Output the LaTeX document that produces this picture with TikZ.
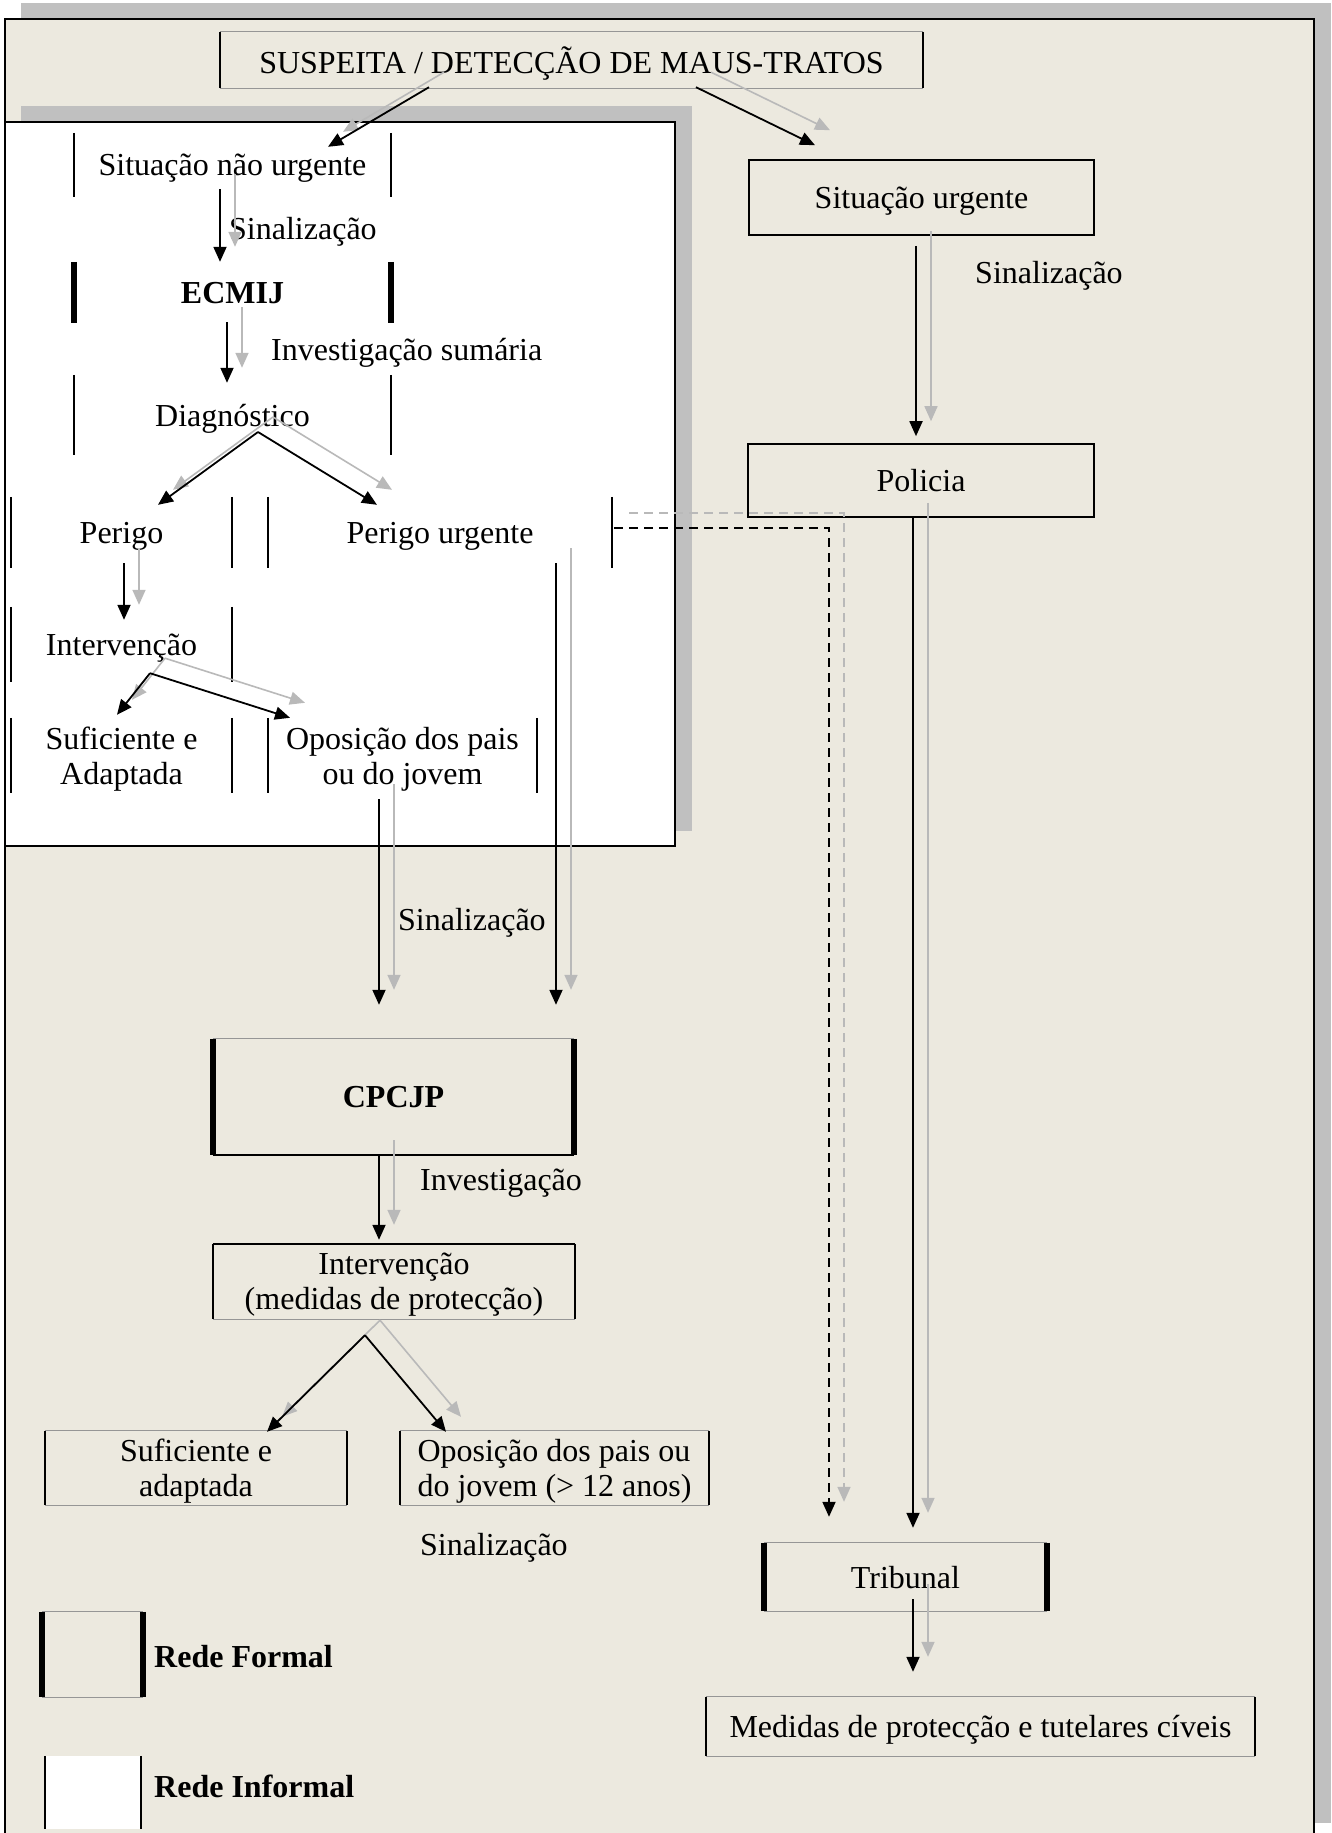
\documentclass[tikz,border=0pt]{standalone}
\usepackage{fontspec}
\setmainfont{Liberation Serif}
\usetikzlibrary{arrows.meta}
\definecolor{paper}{RGB}{236,233,223}
\definecolor{shadowgray}{RGB}{192,192,192}
\definecolor{ghost}{RGB}{185,185,185}
\definecolor{rim}{RGB}{150,150,150}
\newcommand{\flow}[2][]{%
  \draw[ghostarr,#1] #2;
  \draw[blackarr,#1] #2;}
\begin{document}
\begin{tikzpicture}[x=1pt,y=-1pt,>={Triangle[length=15pt,width=13pt]},font=\fontsize{32}{35}\selectfont,
    box/.style={inner sep=0pt,align=center,text depth=0pt},
    full/.style={box,draw=black,line width=1.6pt},
    lab/.style={inner sep=0pt,anchor=west},
    thinbar/.style={line width=1.8pt},
    thickbar/.style={line width=5.5pt},
    rimline/.style={draw=rim,line width=1.2pt},
    ghostarr/.style={->,draw=ghost,line width=1.6pt,transform canvas={shift={(15,-15)}}},
    blackarr/.style={->,draw=black,line width=1.8pt}]
\useasboundingbox (0,0) rectangle (1331,1833);
\fill[white] (0,0) rectangle (1331,1833);
\fill[shadowgray] (21,3) rectangle (1331,1823);
\fill[paper] (5,19) rectangle (1314,1850);
\draw[line width=2pt] (5,1850) -- (5,19) -- (1314,19) -- (1314,1850);
\fill[shadowgray] (21,106) rectangle (692,831);
\draw[line width=2pt,fill=white] (5,122) rectangle (675,846);

\node[box,minimum width=703,minimum height=56] (sus) at (571.5,60) {SUSPEITA / DETECÇÃO DE MAUS-TRATOS};
\node[box,minimum width=317,minimum height=64] (nurg) at (232.5,165) {Situação não urgente};
\node[box,minimum width=317,minimum height=61] (ecm) at (232.5,292.5) {\bfseries ECMIJ};
\node[box,minimum width=317,minimum height=80] (diag) at (232.5,415) {Diagnóstico};
\node[box,minimum width=221,minimum height=71] (per) at (121.5,532.5) {Perigo};
\node[box,minimum width=344,minimum height=71] (peru) at (440,532.5) {Perigo urgente};
\node[box,minimum width=221,minimum height=75] (intv) at (121.5,644.5) {Intervenção};
\node[box,minimum width=221,minimum height=75] (suf) at (121.5,755.5) {Suficiente e\\Adaptada};
\node[box,minimum width=269,minimum height=75] (opo) at (402.5,755.5) {Oposição dos pais\\ou do jovem};
\node[full,minimum width=345,minimum height=75] (urg) at (921.5,197.5) {Situação urgente};
\node[full,minimum width=346,minimum height=73] (pol) at (921,480.5) {Policia};
\node[box,minimum width=361,minimum height=116] (cpc) at (393.5,1097) {\bfseries CPCJP};
\node[box,minimum width=362,minimum height=75] (int2) at (394,1281.5) {Intervenção\\(medidas de protecção)};
\node[box,minimum width=302,minimum height=74] (suf2) at (196,1468) {Suficiente e\\adaptada};
\node[box,align=left,minimum width=309,minimum height=74] (opo2) at (554.5,1468) {Oposição dos pais ou\\do jovem (> 12 anos)};
\node[box,minimum width=283,minimum height=68] (trib) at (905.5,1577) {Tribunal};
\node[box,minimum width=549,minimum height=59] (med) at (980.5,1726.5) {Medidas de protecção e tutelares cíveis};
\node[box,minimum width=101,minimum height=85] (lf) at (92.5,1654.5) {};
\node[box,fill=white,minimum width=96,minimum height=73] (li) at (93,1792.5) {};

\node[lab] (s1) at (229,232) {Sinalização};
\node[lab] (is) at (271,353) {Investigação sumária};
\node[lab] (s2) at (975,276) {Sinalização};
\node[lab] (s3) at (398,923) {Sinalização};
\node[lab] (iv) at (420,1183) {Investigação};
\node[lab] (s4) at (420,1548) {Sinalização};
\node[lab] (rf) at (154,1657) {\bfseries Rede Formal};
\node[lab] (ri) at (154,1786) {\bfseries Rede Informal};

\foreach \n in {sus,suf2,opo2,med,trib,cpc,lf,int2}
  \draw[rimline] (\n.north west) -- (\n.north east) (\n.south west) -- (\n.south east);
\draw[thinbar] (int2.north west) -- (int2.north east);
\draw[line width=2.4pt] (cpc.south west) -- (cpc.south east);
\foreach \n in {nurg,diag,per,peru,intv,suf,opo,sus,suf2,opo2,med,int2,li}
  \draw[thinbar] (\n.north west) -- (\n.south west) (\n.north east) -- (\n.south east);
\foreach \n in {ecm,cpc,trib,lf}
  \draw[thickbar] (\n.north west) -- (\n.south west) (\n.north east) -- (\n.south east);

\flow{([shift={(-142.5,-1)}]sus.south) -- ([shift={(95.5,14)}]nurg.north)}
\flow{([shift={(124.5,-1)}]sus.south) -- ([shift={(-106.5,-14)}]urg.north)}
\flow{([shift={(-12.5,-8)}]nurg.south) -- ([shift={(-12.5,0)}]ecm.north)}
\flow{([shift={(-5.5,-1)}]ecm.south) -- ([shift={(-5.5,8)}]diag.north)}
\flow{([shift={(25.5,17)}]diag.center) -- ([shift={(36.5,8)}]per.north)}
\flow{([shift={(25.5,17)}]diag.center) -- ([shift={(-63,8)}]peru.north)}
\flow{([shift={(2.5,-5)}]per.south) -- ([shift={(2.5,13)}]intv.north)}
\flow{([shift={(28.5,-9)}]intv.south) -- ([shift={(-4.5,-3)}]suf.north)}
\flow{([shift={(28.5,-9)}]intv.south) -- ([shift={(-112.5,0)}]opo.north)}
\flow{([shift={(-23.5,6)}]opo.south) -- ([shift={(-14.5,-34)}]cpc.north)}
\flow{([shift={(116,-5)}]peru.south) -- ([shift={(162.5,-34)}]cpc.north)}
\flow{([shift={(-14.5,0)}]cpc.south) -- ([shift={(-15,-4)}]int2.north)}
\flow{([shift={(-29,16)}]int2.south) -- ([shift={(71,1)}]suf2.north)}
\flow{([shift={(-29,16)}]int2.south) -- ([shift={(-108.5,1)}]opo2.north)}
\flow{([shift={(-5.5,10)}]urg.south) -- ([shift={(-5,-7)}]pol.north)}
\flow{([shift={(-8,0)}]pol.south) -- ([shift={(7.5,-15)}]trib.north)}
\flow{([shift={(7.5,-12)}]trib.south) -- ([shift={(-67.5,-25)}]med.north)}
\flow[dash pattern=on 9pt off 6pt]{([shift={(2,-4.5)}]peru.east) -| ([shift={(-76.5,-26)}]trib.north)}
\end{tikzpicture}
\end{document}
